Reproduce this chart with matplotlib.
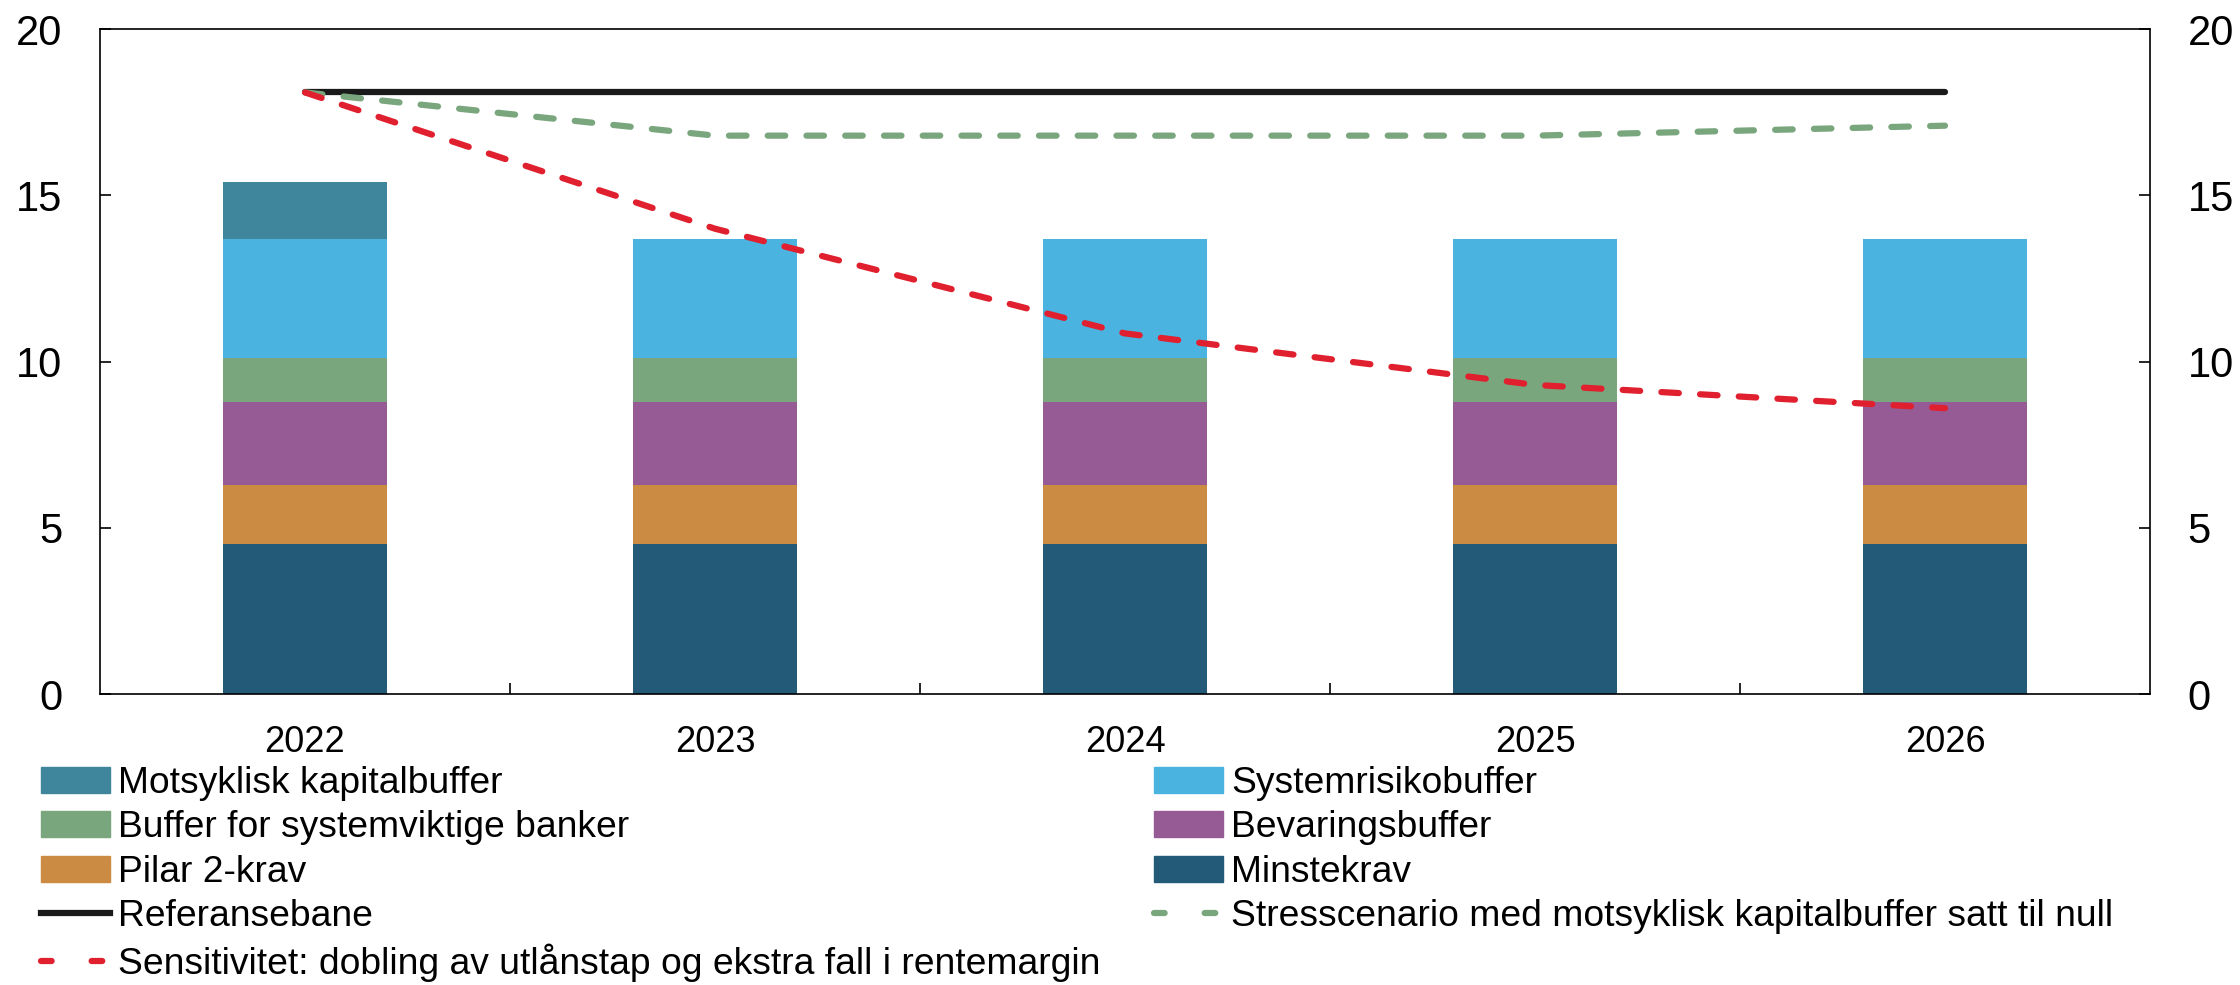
import numpy as np
import matplotlib.pyplot as plt
from matplotlib.patches import Patch
from matplotlib.lines import Line2D

plt.rcParams['font.family'] = ['Liberation Sans', 'DejaVu Sans']

years = ["2022", "2023", "2024", "2025", "2026"]

minstekrav = [4.5, 4.5, 4.5, 4.5, 4.5]
pilar2 = [1.8, 1.8, 1.8, 1.8, 1.8]
bevaring = [2.5, 2.5, 2.5, 2.5, 2.5]
systemviktige = [1.3, 1.3, 1.3, 1.3, 1.3]
systemrisiko = [3.6, 3.6, 3.6, 3.6, 3.6]
motsyklisk = [1.7, 0, 0, 0, 0]

referanse = [18.1, 18.1, 18.1, 18.1, 18.1]
stress_null = [18.1, 16.8, 16.8, 16.8, 17.1]
sensitivitet = [18.1, 14.0, 10.85, 9.3, 8.6]

c_min = "#225a78"
c_pil = "#cc8b42"
c_bev = "#965b94"
c_sys = "#7aa67e"
c_risk = "#4ab3e0"
c_mot = "#3f869c"
c_red = "#e0202e"
c_green = "#7aa67e"
c_black = "#1a1a1a"

fig = plt.figure(figsize=(22.4, 9.85), dpi=100)
ax = fig.add_axes([100/2240, 1-694/985, 2050/2240, (694-29.3)/985])

x = np.arange(len(years))
w = 0.4
stacks = [(minstekrav, c_min), (pilar2, c_pil), (bevaring, c_bev),
          (systemviktige, c_sys), (systemrisiko, c_risk), (motsyklisk, c_mot)]
bottom = np.zeros(len(years))
for vals, col in stacks:
    ax.bar(x, vals, w, bottom=bottom, color=col, linewidth=0)
    bottom = bottom + np.array(vals)

lw = 4.5
dash = (2.8, 3.4)
ax.plot(x, referanse, color=c_black, lw=lw, solid_capstyle='round')
ax.plot(x, stress_null, color=c_green, lw=lw, dashes=dash, dash_capstyle='round')
ax.plot(x, sensitivitet, color=c_red, lw=lw, dashes=dash, dash_capstyle='round')

ax.set_xlim(-0.5, 4.5)
ax.set_ylim(0, 20)
ax.set_yticks([0, 5, 10, 15, 20])
ax.set_xticks(x)
ax.set_xticklabels(years)
ax.set_xticks(x[:-1] + 0.5, minor=True)
ax.tick_params(axis='x', which='major', length=0, labelsize=26, pad=22)
ax.tick_params(axis='x', which='minor', direction='in', length=8, width=1.2)
ax.tick_params(axis='y', direction='in', length=8, width=1.2, labelsize=30,
               left=True, right=True, labelleft=True, labelright=True, pad=27)
for s in ax.spines.values():
    s.set_linewidth(1.2)

leg_dash = (1.7, 6.4)
handles = [
    Patch(color=c_mot, label="Motsyklisk kapitalbuffer"),
    Patch(color=c_sys, label="Buffer for systemviktige banker"),
    Patch(color=c_pil, label="Pilar 2-krav"),
    Line2D([], [], color=c_black, lw=lw, label="Referansebane"),
    Line2D([], [], color=c_red, lw=lw, dashes=leg_dash, dash_capstyle='round',
           label="Sensitivitet: dobling av utlånstap og ekstra fall i rentemargin"),
    Patch(color=c_risk, label="Systemrisikobuffer"),
    Patch(color=c_bev, label="Bevaringsbuffer"),
    Patch(color=c_min, label="Minstekrav"),
    Line2D([], [], color=c_green, lw=lw, dashes=leg_dash, dash_capstyle='round',
           label="Stresscenario med motsyklisk kapitalbuffer satt til null"),
]
fig.legend(handles=handles, ncol=2, loc='upper left', bbox_to_anchor=(41/2240, 1-766/985),
           frameon=False, fontsize=26.8, borderpad=0, borderaxespad=0,
           handlelength=1.85, handleheight=0.7, handletextpad=0.22,
           labelspacing=0.25, columnspacing=1.45)

fig.savefig("out.png", dpi=100)
